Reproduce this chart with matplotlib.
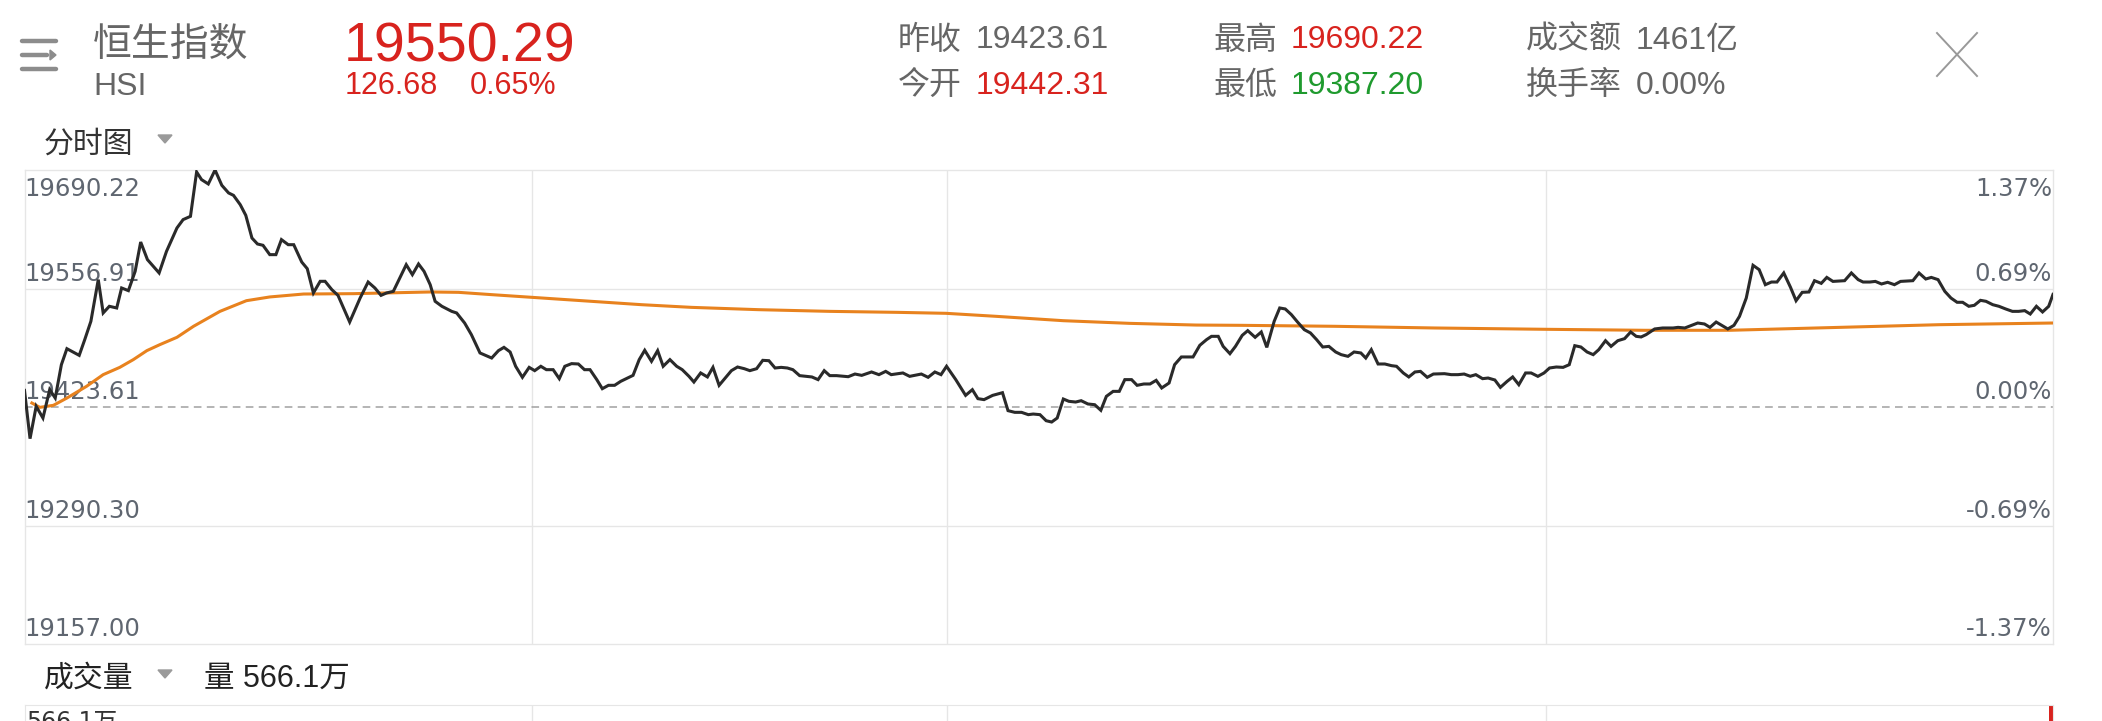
import matplotlib
matplotlib.use("Agg")
import matplotlib.pyplot as plt
from matplotlib.lines import Line2D
from matplotlib.patches import Polygon

# intraday HSI, minutes since 9:30 (lunch break squeezed out, 330 min total)
minutes = [0, 0.9, 1.9, 3.0, 4.1, 5.0, 6.0, 6.9, 8.9, 9.8, 10.8, 12.0, 12.8, 13.8, 15.0, 15.8,
           16.9, 18.0, 18.9, 20.0, 21.9, 23.1, 24.8, 25.8, 27.0, 28.0, 28.8, 29.9, 31.0, 32.1,
           33.2, 34.0, 35.1, 36.0, 37.0, 37.9, 38.8, 39.9, 40.9, 41.8, 42.9, 43.8, 45.1, 46.0,
           47.0, 48.1, 48.9, 50.0, 51.0, 52.9, 54.6, 55.9, 57.0, 58.0, 58.9, 60.0, 62.1, 63.1,
           64.1, 65.0, 66.0, 66.8, 67.9, 69.5, 70.3, 71.6, 72.7, 74.1, 76.0, 77.1, 78.0, 79.0,
           79.9, 81.0, 82.1, 83.0, 84.0, 84.9, 86.0, 87.0, 87.9, 89.0, 90.1, 91.1, 92.0, 93.1,
           94.0, 95.0, 96.0, 97.0, 97.9, 99.0, 100.0, 100.9, 102.0, 103.0, 103.9, 105.0, 106.1,
           107.0, 108.1, 108.9, 110.0, 111.1, 112.0, 113.0, 114.1, 115.0, 116.0, 117.1, 118.0,
           119.1, 120.1, 121.1, 122.1, 123.1, 124.1, 125.0, 126.1, 127.2, 128.1, 129.1, 130.1,
           131.0, 132.1, 134.0, 135.1, 136.2, 137.8, 139.0, 140.1, 141.0, 142.9, 144.0, 145.9,
           147.0, 148.1, 149.1, 150.0, 151.5, 153.1, 154.2, 155.1, 156.1, 157.5, 159.1, 160.0,
           161.1, 162.2, 163.3, 164.1, 165.2, 166.2, 167.1, 168.0, 169.0, 169.9, 171.0, 171.9,
           173.0, 174.1, 175.1, 176.0, 177.1, 178.1, 179.0, 180.1, 181.0, 182.1, 183.1, 184.1,
           185.0, 186.2, 187.1, 188.2, 190.1, 191.2, 192.3, 193.1, 194.2, 195.0, 196.1, 197.0,
           198.1, 199.0, 200.2, 201.2, 202.1, 203.3, 204.2, 205.1, 206.1, 207.1, 208.2, 209.2,
           210.2, 211.2, 212.2, 213.3, 214.2, 215.3, 216.3, 217.4, 218.2, 219.1, 220.2, 221.3,
           222.4, 223.2, 224.3, 225.2, 226.2, 227.1, 228.2, 229.2, 231.0, 232.1, 233.2, 234.2,
           235.2, 236.1, 237.2, 238.1, 239.2, 240.1, 241.2, 242.1, 243.1, 244.2, 245.1, 246.2,
           247.2, 248.1, 249.2, 250.3, 251.3, 252.2, 253.2, 254.2, 255.2, 256.1, 257.2, 258.1,
           259.2, 260.3, 261.3, 262.2, 263.0, 263.8, 265.2, 266.5, 268.2, 269.0, 270.1, 271.2,
           272.2, 273.3, 274.2, 275.2, 276.2, 277.1, 278.1, 279.0, 280.1, 281.2, 282.2, 283.2,
           284.2, 285.1, 286.2, 287.3, 288.2, 289.2, 290.3, 291.2, 292.3, 293.2, 294.2, 296.1,
           297.2, 298.3, 299.1, 300.2, 301.1, 302.1, 303.1, 304.2, 305.2, 307.2, 308.2, 309.3,
           310.2, 311.3, 312.4, 313.4, 314.4, 315.3, 316.3, 317.2, 318.2, 319.1, 320.2, 321.2,
           322.3, 323.4, 324.4, 325.4, 326.3, 327.3, 328.3, 329.3, 330.0]
prices = [19442.3, 19388.0, 19424.4, 19411.2, 19443.1, 19433.7, 19471.2, 19489.2, 19481.7, 19499.4,
          19520.0, 19566.9, 19529.4, 19536.9, 19535.0, 19557.5, 19554.5, 19576.2, 19609.2, 19589.4,
          19574.4, 19598.7, 19625.0, 19634.4, 19638.1, 19688.0, 19679.4, 19674.5, 19690.2, 19673.0,
          19664.4, 19661.7, 19651.2, 19639.2, 19613.7, 19607.0, 19605.5, 19595.0, 19595.0, 19611.9,
          19606.2, 19606.2, 19586.7, 19579.2, 19551.9, 19565.0, 19565.0, 19555.6, 19549.2, 19519.2,
          19546.2, 19564.2, 19557.5, 19549.2, 19551.9, 19553.7, 19583.7, 19572.5, 19584.5, 19576.2,
          19561.2, 19542.5, 19536.9, 19531.2, 19529.4, 19518.1, 19505.0, 19484.4, 19478.7, 19487.0,
          19490.7, 19485.5, 19469.4, 19457.0, 19468.2, 19464.5, 19469.4, 19465.6, 19465.6, 19455.5,
          19469.4, 19472.4, 19472.0, 19465.6, 19465.6, 19454.4, 19444.2, 19448.0, 19448.0, 19452.5,
          19455.5, 19459.2, 19476.9, 19487.4, 19475.0, 19487.0, 19469.4, 19476.9, 19469.4, 19465.6,
          19458.1, 19451.7, 19461.9, 19457.4, 19468.2, 19448.0, 19457.0, 19464.5, 19468.6, 19466.7,
          19464.5, 19466.7, 19476.1, 19475.7, 19467.5, 19468.2, 19467.5, 19465.6, 19458.9, 19458.1,
          19457.4, 19454.4, 19464.5, 19458.9, 19458.9, 19457.7, 19460.7, 19459.2, 19463.0, 19460.0,
          19463.7, 19460.0, 19461.9, 19458.1, 19460.7, 19457.0, 19463.0, 19460.0, 19469.4, 19454.4,
          19436.7, 19443.1, 19433.0, 19431.9, 19436.7, 19439.7, 19419.5, 19417.6, 19417.6, 19415.0,
          19415.7, 19415.0, 19408.2, 19406.7, 19411.2, 19432.6, 19430.0, 19429.2, 19430.7, 19427.0,
          19426.2, 19419.9, 19435.6, 19441.2, 19441.2, 19454.4, 19454.4, 19448.0, 19449.5, 19449.5,
          19453.6, 19445.0, 19450.6, 19471.2, 19479.9, 19479.9, 19493.0, 19499.4, 19503.1, 19503.1,
          19491.8, 19483.6, 19491.8, 19504.2, 19509.5, 19502.0, 19508.0, 19490.7, 19520.0, 19535.0,
          19533.9, 19527.5, 19519.2, 19510.6, 19506.9, 19499.4, 19491.1, 19491.8, 19485.5, 19482.5,
          19480.6, 19485.5, 19484.4, 19478.7, 19488.1, 19472.0, 19472.0, 19470.1, 19469.4, 19461.9,
          19457.4, 19463.0, 19463.7, 19457.0, 19460.7, 19461.1, 19460.0, 19460.0, 19460.7, 19458.2,
          19460.0, 19455.5, 19456.2, 19454.0, 19445.7, 19452.5, 19457.4, 19448.7, 19461.9, 19461.9,
          19458.1, 19461.9, 19467.5, 19468.6, 19468.2, 19471.2, 19492.6, 19491.1, 19485.5, 19482.5,
          19488.1, 19498.2, 19491.8, 19498.2, 19500.5, 19508.0, 19503.1, 19502.4, 19505.0, 19511.4,
          19512.5, 19512.5, 19513.2, 19512.5, 19515.5, 19518.1, 19517.0, 19513.2, 19519.2, 19515.1,
          19511.4, 19515.5, 19525.6, 19546.2, 19583.0, 19578.1, 19561.2, 19564.2, 19564.2, 19574.4,
          19558.2, 19543.2, 19552.6, 19553.0, 19565.7, 19562.7, 19569.4, 19564.9, 19565.7, 19574.4,
          19566.9, 19564.2, 19564.2, 19564.9, 19562.0, 19563.9, 19561.2, 19564.9, 19565.7, 19574.4,
          19567.6, 19569.4, 19566.9, 19553.7, 19546.2, 19541.4, 19541.4, 19536.9, 19538.0, 19543.6,
          19542.5, 19538.7, 19536.9, 19533.9, 19531.2, 19531.2, 19532.0, 19528.2, 19536.9, 19530.5,
          19536.9, 19550.29]

# average price line
avg_minutes = [1.2, 2.5, 4.7, 6.9, 10.1, 12.8, 15.5, 17.7, 19.9, 22.0, 24.8, 27.5, 31.8, 36.1,
               39.9, 45.4, 53.5, 66.0, 70.6, 76.0, 82.5, 92.2, 100.4, 108.5, 119.4, 131.0, 141.9,
               149.9, 158.1, 169.0, 179.8, 190.6, 197.7, 213.1, 229.4, 247.7, 263.6, 277.4, 295.3,
               311.5, 330.0]
avg_prices = [19428.1, 19423.2, 19425.5, 19433.7, 19446.9, 19460.0, 19468.2, 19476.9, 19487.0,
              19493.7, 19502.0, 19514.4, 19531.2, 19543.2, 19547.4, 19550.7, 19551.1, 19553.0,
              19552.6, 19550.0, 19547.0, 19542.5, 19538.7, 19535.7, 19533.1, 19531.2, 19530.1,
              19529.0, 19525.6, 19520.7, 19517.7, 19515.8, 19515.5, 19514.4, 19512.5, 19511.0,
              19509.9, 19509.9, 19513.2, 19516.2, 19518.1]

prev_close = 19423.61
price_ticks = [19690.22, 19556.91, 19423.61, 19290.30, 19157.00]
pct_labels = ['1.37%', '0.69%', '0.00%', '-0.69%', '-1.37%']
time_grid = [82.5, 150, 247.5]
last_volume = 566.1

W, H = 2102, 721
GRID = '#e6e6e6'
RED = '#d8231e'
GREEN = '#1f9a2e'
GREY = '#666666'
CJK = ['Noto Sans CJK SC']
NUM = ['Liberation Sans', 'Noto Sans CJK SC']


def fx(x):
    return x / W


def fy(y):
    return 1 - y / H


fig = plt.figure(figsize=(W / 100, H / 100), dpi=100)
fig.patch.set_facecolor('white')

# main price panel
ax = fig.add_axes([fx(24.5), fy(644), fx(2053) - fx(24.5), (644 - 170) / H])
ax.plot(minutes, prices, color='#2a2a2a', lw=2.2, zorder=5, solid_joinstyle='miter')
ax.plot(avg_minutes, avg_prices, color='#e8821e', lw=2.2, zorder=4)
ax.axhline(prev_close, color='#a0a0a0', lw=1.1, dashes=(5, 3.5), zorder=2)
ax.set_xlim(0, 330)
ax.set_ylim(price_ticks[-1], price_ticks[0])
ax.set_xticks(time_grid)
ax.set_yticks([price_ticks[1], price_ticks[3]])
ax.grid(color=GRID, lw=1.0, zorder=0)
ax.tick_params(length=0, labelleft=False, labelbottom=False)
for s in ax.spines.values():
    s.set_color(GRID)
    s.set_linewidth(1.0)

for i, (p, lab) in enumerate(zip(price_ticks, pct_labels)):
    dy = -26 if i == 0 else 8
    ax.annotate(f'{p:.2f}', xy=(0, p), xycoords=('axes fraction', 'data'),
                xytext=(0, dy), textcoords='offset pixels', ha='left', va='baseline',
                fontsize=17.5, color='#5f6670', family='DejaVu Sans', zorder=1)
    ax.annotate(lab, xy=(1, p), xycoords=('axes fraction', 'data'),
                xytext=(-1, dy), textcoords='offset pixels', ha='right', va='baseline',
                fontsize=17.5, color='#5f6670', family='DejaVu Sans', zorder=1)

# volume panel (only its top strip is visible)
ax2 = fig.add_axes([fx(24.5), fy(945), fx(2053) - fx(24.5), (945 - 705) / H])
ax2.bar([329.4], [last_volume], width=0.6, align='edge', color=RED)
ax2.set_xlim(0, 330)
ax2.set_ylim(0, last_volume)
ax2.set_xticks(time_grid)
ax2.set_yticks([])
ax2.grid(axis='x', color=GRID, lw=1.0)
ax2.tick_params(length=0, labelbottom=False)
for s in ax2.spines.values():
    s.set_color(GRID)
fig.text(fx(26), fy(729), '566.1万', fontsize=17, color='#333333',
         family=['DejaVu Sans', 'Noto Sans CJK SC'], va='baseline')

# header
for y in (41, 55, 69):
    x2 = 47 if y == 55 else 56
    fig.add_artist(Line2D([fx(22), fx(x2)], [fy(y), fy(y)], color='#8c8c8c', lw=3.2,
                          solid_capstyle='round'))
fig.add_artist(Polygon([(fx(50), fy(50)), (fx(50), fy(60)), (fx(56), fy(55))],
                       closed=True, color='#8c8c8c', transform=fig.transFigure))

fig.text(fx(93), fy(57), '恒生指数', fontsize=28, color=GREY, family=CJK, va='baseline')
fig.text(fx(93), fy(95), 'HSI', fontsize=23, color=GREY, family=NUM, va='baseline')
fig.text(fx(344), fy(62), '19550.29', fontsize=40, color=RED, family=NUM, va='baseline')
fig.text(fx(345), fy(93.5), '126.68', fontsize=22, color=RED, family=NUM, va='baseline')
fig.text(fx(470), fy(93.5), '0.65%', fontsize=22, color=RED, family=NUM, va='baseline')

stats = [
    (898, 48.5, '昨收', '19423.61', GREY),
    (898, 93.5, '今开', '19442.31', RED),
    (1213, 48.5, '最高', '19690.22', RED),
    (1213, 93.5, '最低', '19387.20', GREEN),
    (1526, 48.5, '成交额', '1461亿', GREY),
    (1526, 93.5, '换手率', '0.00%', GREY),
]
for x, y, lab, val, col in stats:
    fig.text(fx(x), fy(y), lab, fontsize=23, color=GREY, family=CJK, va='baseline')
    vx = x + 78 if len(lab) == 2 else x + 110
    fig.text(fx(vx), fy(y), val, fontsize=23, color=col, family=NUM, va='baseline')

# close button
fig.add_artist(Line2D([fx(1937), fx(1977)], [fy(33), fy(76)], color='#999999', lw=1.4))
fig.add_artist(Line2D([fx(1977), fx(1937)], [fy(33), fy(76)], color='#999999', lw=1.4))

# section titles
fig.text(fx(44), fy(153), '分时图', fontsize=21.5, color='#333333', family=CJK, va='baseline')
fig.add_artist(Polygon([(fx(158), fy(135)), (fx(172), fy(135)), (fx(165), fy(143))],
                       closed=True, color='#9a9a9a', transform=fig.transFigure))
fig.text(fx(44), fy(687), '成交量', fontsize=21.5, color='#222222', family=CJK, va='baseline')
fig.add_artist(Polygon([(fx(158), fy(670)), (fx(172), fy(670)), (fx(165), fy(678))],
                       closed=True, color='#9a9a9a', transform=fig.transFigure))
fig.text(fx(204), fy(687), '量 566.1万', fontsize=22, color='#222222', family=NUM, va='baseline')

fig.savefig('out.png', dpi=100)
